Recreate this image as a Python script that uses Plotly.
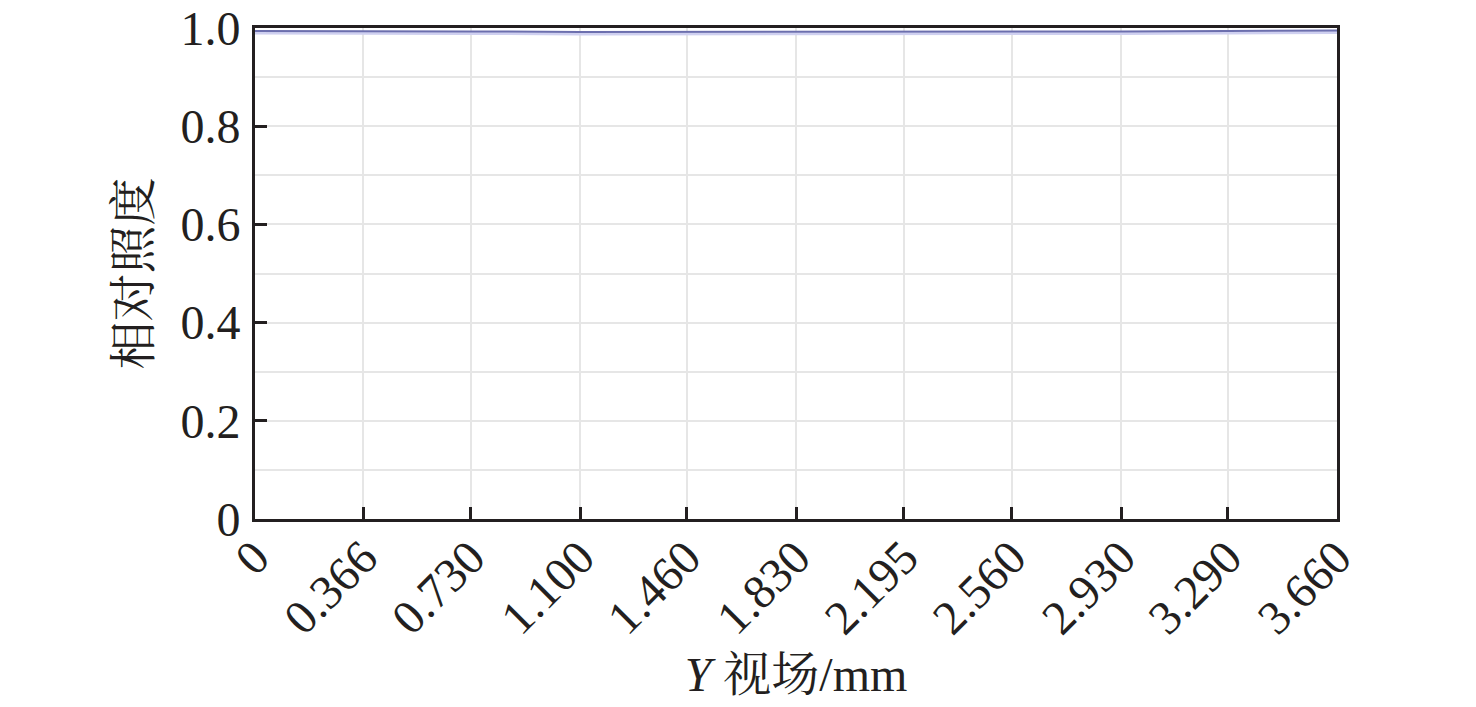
import plotly.graph_objects as go

# Data
y_field = [0, 0.366, 0.730, 1.100, 1.460, 1.830, 2.195, 2.560, 2.930, 3.290, 3.660]
x_tick_labels = ["0", "0.366", "0.730", "1.100", "1.460", "1.830", "2.195", "2.560", "2.930", "3.290", "3.660"]
rel_illum_dark = [0.994, 0.994, 0.993, 0.992, 0.992, 0.992, 0.993, 0.993, 0.993, 0.994, 0.995]
rel_illum_light = [0.990, 0.990, 0.989, 0.988, 0.988, 0.988, 0.989, 0.989, 0.989, 0.990, 0.991]
y_tick_vals = [0, 0.2, 0.4, 0.6, 0.8, 1.0]
y_tick_labels = ["0", "0.2", "0.4", "0.6", "0.8", "1.0"]

FONT = "Liberation Serif, Noto Serif CJK SC, Noto Sans CJK SC, serif"
FS = 48

fig = go.Figure()
fig.add_trace(go.Scatter(x=y_field, y=rel_illum_light, mode="lines",
                         line=dict(color="#cfd0f0", width=3), showlegend=False))
fig.add_trace(go.Scatter(x=y_field, y=rel_illum_dark, mode="lines",
                         line=dict(color="#6c6fae", width=2), showlegend=False))

fig.update_layout(
    width=1476, height=707,
    margin=dict(l=247, r=147, t=20, b=196),
    paper_bgcolor="white", plot_bgcolor="white",
    font=dict(family=FONT, size=FS, color="#231f20"),
)
fig.update_xaxes(
    range=[0, 3.66], tickmode="array", tickvals=y_field, ticktext=x_tick_labels,
    tickangle=-45, ticks="inside", ticklen=12, tickwidth=3, tickcolor="#231f20",
    showline=True, linecolor="#231f20", linewidth=3, mirror=True,
    showgrid=True, gridcolor="#e6e6e6", gridwidth=2, zeroline=False,
    tickfont=dict(family=FONT, size=FS), automargin=False,
    ticklabelstandoff=-12, ticklabeloverflow="allow",
    title=dict(text="<i>Y</i> 视场/mm", font=dict(family=FONT, size=FS)),
)
fig.update_yaxes(
    range=[0, 1.0], tickmode="array", tickvals=y_tick_vals, ticktext=y_tick_labels,
    ticks="inside", ticklen=12, tickwidth=3, tickcolor="#231f20",
    showline=True, linecolor="#231f20", linewidth=3, mirror=True,
    showgrid=True, gridcolor="#e6e6e6", gridwidth=2, zeroline=False,
    minor=dict(dtick=0.1, tick0=0, showgrid=True, gridcolor="#e6e6e6", gridwidth=2, ticks=""),
    tickfont=dict(family=FONT, size=FS), automargin=False,
    ticklabelstandoff=2, ticklabeloverflow="allow",
    title=dict(text="相对照度", font=dict(family=FONT, size=FS)),
)

fig.write_html("out.html")
